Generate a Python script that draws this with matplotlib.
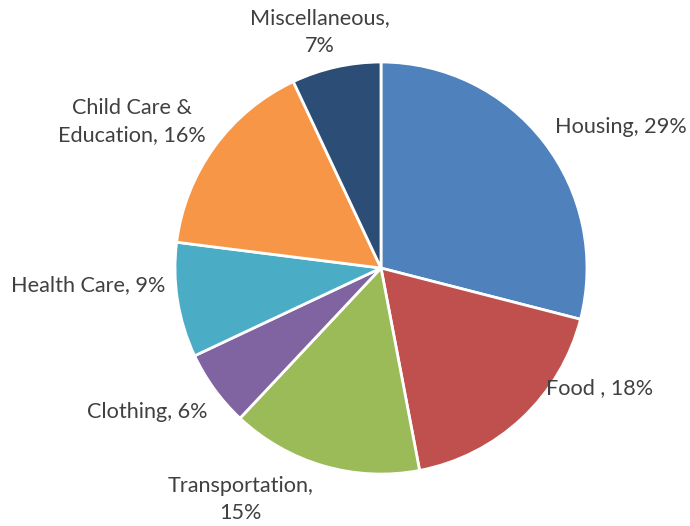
import matplotlib.pyplot as plt

categories = ['Housing', 'Food ', 'Transportation', 'Clothing', 'Health Care',
              'Child Care &\nEducation', 'Miscellaneous']
shares = [29, 18, 15, 6, 9, 16, 7]
colors = ['#4F81BD', '#C0504D', '#9BBB59', '#8064A2', '#4BACC6', '#F79646', '#2C4D75']

# label anchor points (pie units) and where to break the line
label_pos = [(1.165, 0.684), (1.061, -0.583), (-0.684, -1.124), (-1.133, -0.699),
             (-1.422, -0.083), (-1.209, 0.709), (-0.296, 1.146)]
label_sep = [', ', ', ', ',\n', ', ', ', ', ', ', ',\n']

plt.rcParams['font.family'] = ['Lato', 'DejaVu Sans']

fig = plt.figure(figsize=(6.9, 5.26), dpi=100)
ax = fig.add_axes([0, 0, 1, 1])

ax.pie(shares, colors=colors, startangle=90, counterclock=False, radius=1.0,
       wedgeprops=dict(edgecolor='white', linewidth=2.0))

for name, v, (x, y), sep in zip(categories, shares, label_pos, label_sep):
    ax.text(x, y, f'{name}{sep}{v}%', ha='center', va='center', fontsize=15.6,
            color='#404040', linespacing=1.45)

ax.set_xlim(-1.8495, 1.5)
ax.set_ylim(-1.252, 1.301)
ax.set_aspect('auto')
ax.axis('off')

fig.savefig('out.png', dpi=100)
